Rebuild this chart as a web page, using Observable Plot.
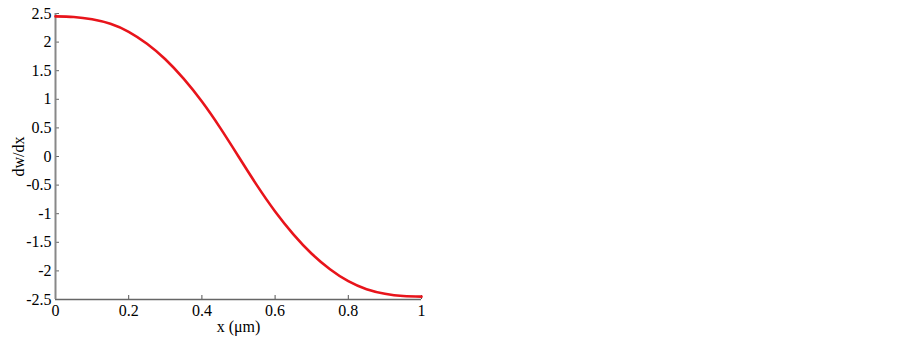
<!DOCTYPE html>
<html>
<head>
<meta charset="utf-8">
<script src="https://cdn.jsdelivr.net/npm/d3@7"></script>
<script src="https://cdn.jsdelivr.net/npm/@observablehq/plot@0.6"></script>
<style>
  html, body { margin: 0; padding: 0; background: #fff; }
  #chart { width: 902px; height: 342px; }
  #chart svg, #chart svg text { font-family: "Liberation Serif", "Times New Roman", serif !important; font-variant: normal !important; }
</style>
</head>
<body>
<div id="chart"></div>
<script>
const xValues = [0, 0.05, 0.1, 0.15, 0.2, 0.25, 0.3, 0.35, 0.4, 0.45, 0.5,
                 0.55, 0.6, 0.65, 0.7, 0.75, 0.8, 0.85, 0.9, 0.95, 1];
const slopeValues = [2.45, 2.44, 2.40, 2.32, 2.18, 1.97, 1.70, 1.36, 0.96, 0.50, 0,
                     -0.50, -0.96, -1.36, -1.70, -1.97, -2.18, -2.32, -2.40, -2.44, -2.45];
const xTicks = [0, 0.2, 0.4, 0.6, 0.8, 1];
const yTicks = [-2.5, -2, -1.5, -1, -0.5, 0, 0.5, 1, 1.5, 2, 2.5];

const data = xValues.map((x, i) => ({x, y: slopeValues[i]}));

const W = 902, H = 342;
const mL = 55, mR = 481, mT = 13, mB = 43;
const plotH = H - mT - mB;
const plotW = W - mL - mR;
const fmt = d => String(d);
const FS = 16;

const chart = Plot.plot({
  width: W,
  height: H,
  marginLeft: mL,
  marginRight: mR,
  marginTop: mT,
  marginBottom: mB,
  style: {fontSize: FS + "px", background: "#fff", color: "#000"},
  x: {domain: [0, 1], label: null},
  y: {domain: [-2.5, 2.5], label: null},
  marks: [
    Plot.axisX(xTicks, {tickSize: 0, tickPadding: 5, tickFormat: fmt, fontSize: FS, label: null}),
    Plot.axisY(yTicks, {tickSize: 0, tickPadding: 4, tickFormat: fmt, fontSize: FS, label: null}),
    Plot.tickX(xTicks, {x: d => d, insetTop: plotH - 4, stroke: "#555", strokeWidth: 1}),
    Plot.tickY(yTicks, {y: d => d, insetRight: plotW - 4, stroke: "#666", strokeWidth: 1}),
    Plot.ruleY([-2.5], {stroke: "#666", strokeWidth: 1.5}),
    Plot.ruleX([0], {stroke: "#888", strokeWidth: 2}),
    Plot.line(data, {x: "x", y: "y", curve: "natural", stroke: "#e8141b", strokeWidth: 2.6}),
    Plot.text(["x (\u03bcm)"], {frameAnchor: "bottom", lineAnchor: "middle", textAnchor: "middle", dy: 27, fontSize: FS, text: d => d}),
    Plot.text(["dw/dx"], {frameAnchor: "left", textAnchor: "middle", lineAnchor: "middle", dx: -37, rotate: -90, fontSize: FS, text: d => d})
  ]
});
document.getElementById("chart").appendChild(chart);
</script>
</body>
</html>
